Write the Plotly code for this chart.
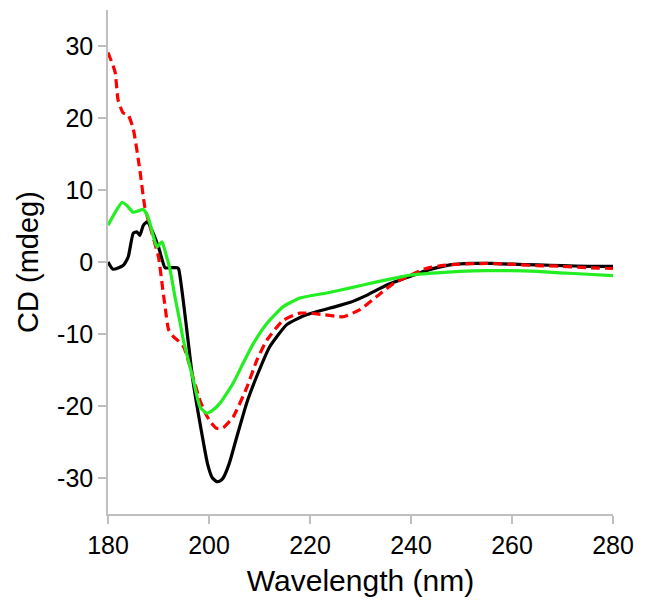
import plotly.graph_objects as go

# Black (solid) spectrum
black_wl = [180, 181, 183, 184, 185, 185.7, 186.3, 187, 187.8, 188.7, 190, 191.3, 192.3, 193.7, 194.0,
            195.6, 196.8, 198.8, 199.7, 200.6, 201.5, 202.2, 202.8, 204, 205.5, 207.5, 209.5, 212,
            215.4, 219, 224, 228, 231.3, 235.2, 239.8, 243, 247.7, 252, 256, 260, 265, 270, 275, 280]
black_cd = [0, -1, -0.5, 0.7, 4, 4.2, 3.7, 5.1, 5.6, 4.4, 2.1, -0.8, -0.8, -0.8, -1.0,
            -9.4, -16.4, -24.7, -28, -29.9, -30.5, -30.4, -30, -28, -24.3, -19.5, -15.8, -11.8,
            -8.7, -7.4, -6.4, -5.6, -4.6, -3.2, -2.0, -1.2, -0.4, -0.2, -0.2, -0.3, -0.4, -0.5, -0.6, -0.6]

# Green (solid) spectrum
green_wl = [180, 181.5, 182.8, 183.8, 185, 186, 187, 188, 189, 189.7, 190.7, 191.5, 192.3, 193.3, 194.3,
            194.9, 196.9, 198.2, 199.5, 200.5, 202.2, 204.8, 206.8, 208.8, 211.5, 214.7, 218, 223.3, 228,
            233, 237.8, 240, 245, 249.7, 255, 259.6, 265, 269.5, 275, 280]
green_cd = [5.1, 7, 8.3, 7.8, 6.9, 7.1, 7.3, 6.1, 3.5, 2.1, 2.8, 1, -1.1, -5, -8.5,
            -10.8, -16.4, -20.1, -21, -20.7, -19.6, -16.8, -14, -11.3, -8.5, -6.2, -5.0, -4.3, -3.6,
            -2.8, -2.1, -1.8, -1.5, -1.3, -1.2, -1.2, -1.3, -1.5, -1.7, -1.9]

# Red (dashed) spectrum
red_wl = [180, 181.4, 182, 183, 184, 185, 186.3, 187.3, 188.7, 190, 190.7, 191.3, 192, 193, 194, 195,
          197, 198.2, 199.5, 200.5, 201.5, 202.8, 204.8, 207.5, 209.5, 211.5, 214.7, 218, 222.6, 226.6,
          229.9, 233.9, 236.5, 240, 243, 246, 249.7, 255, 259.6, 265, 270, 275, 280]
red_cd = [29.1, 26.4, 22.5, 20.7, 20.4, 18.5, 12.8, 7.6, 4, 0.7, -3, -6.2, -9.4, -10.4, -11, -11.8,
          -16.4, -19.2, -21.3, -22.4, -23.1, -23, -21.5, -17.4, -13.6, -10.8, -8.1, -7.1, -7.3, -7.6,
          -6.6, -4.4, -3, -1.8, -0.9, -0.5, -0.3, -0.2, -0.3, -0.5, -0.6, -0.8, -0.9]

x_ticks = [180, 200, 220, 240, 260, 280]
y_ticks = [-30, -20, -10, 0, 10, 20, 30]
y_labels = ["-30", "-20", "-10", "0", "10", "20", "30"]

fig = go.Figure()
fig.add_trace(go.Scatter(x=black_wl, y=black_cd, mode="lines",
                         line=dict(color="#000000", width=3.2, shape="spline", smoothing=0.5)))
fig.add_trace(go.Scatter(x=red_wl, y=red_cd, mode="lines",
                         line=dict(color="#ff0000", width=3.2, dash="9px,5px", shape="spline", smoothing=0.5)))
fig.add_trace(go.Scatter(x=green_wl, y=green_cd, mode="lines",
                         line=dict(color="#22ee22", width=3.2, shape="spline", smoothing=0.5)))

font_family = "Liberation Sans, Arial, sans-serif"
# page body has an 8px margin, so the figure is sized to fit inside it
fig.update_layout(
    width=630, height=596,
    margin=dict(l=100, r=25, t=2, b=90),
    paper_bgcolor="white", plot_bgcolor="white",
    showlegend=False,
    font=dict(family=font_family, color="#000000"),
    xaxis=dict(range=[180, 280], tickvals=x_ticks, ticks="outside", ticklen=8,
               tickcolor="#bfbfbf", tickwidth=1.5, showline=True, linecolor="#bfbfbf",
               linewidth=1.5, showgrid=False, zeroline=False, automargin=False,
               tickfont=dict(size=25, family=font_family),
               title=dict(text="Wavelength (nm)", font=dict(size=30, family=font_family), standoff=12)),
    yaxis=dict(range=[-35, 35], tickvals=y_ticks, ticktext=y_labels, ticks="outside", ticklen=8,
               tickcolor="#bfbfbf", tickwidth=1.5, showline=True, linecolor="#bfbfbf",
               linewidth=1.5, showgrid=False, zeroline=False, automargin=False,
               tickfont=dict(size=25, family=font_family),
               title=dict(text="CD (mdeg)", font=dict(size=29, family=font_family), standoff=10)),
)

fig.write_html("out.html")
